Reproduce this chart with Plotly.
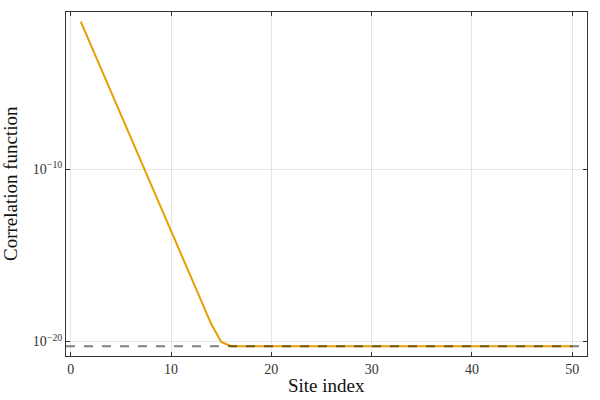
import plotly.graph_objects as go

# site indices and correlation values (log scale)
sites = list(range(1, 51))
correlation = [
    3.7e-2, 1.66e-3, 7.4e-5, 3.3e-6, 1.48e-7, 6.6e-9, 2.95e-10, 1.32e-11,
    6.0e-13, 2.7e-14, 1.2e-15, 5.4e-17, 2.4e-18, 1.07e-19, 9.5e-21,
    5.4e-21, 5.4e-21, 5.4e-21, 5.4e-21, 5.4e-21, 5.4e-21, 5.4e-21, 5.4e-21,
    5.4e-21, 5.4e-21, 5.4e-21, 5.4e-21, 5.4e-21, 5.4e-21, 5.4e-21, 5.4e-21,
    5.4e-21, 5.4e-21, 5.4e-21, 5.4e-21, 5.4e-21, 5.4e-21, 5.4e-21, 5.4e-21,
    5.4e-21, 5.4e-21, 5.4e-21, 5.4e-21, 5.4e-21, 5.4e-21, 5.4e-21, 5.4e-21,
    5.4e-21, 5.4e-21, 5.4e-21,
]
floor_level = 5.4e-21

x_ticks = [0, 10, 20, 30, 40, 50]
y_ticks = [1e-20, 1e-10]
y_ticktext = ["10<sup>\u221220</sup>", "10<sup>\u221210</sup>"]

font = "Liberation Serif"

fig = go.Figure()
fig.add_trace(go.Scatter(x=sites, y=correlation, mode="lines",
                         line=dict(color="#e69f00", width=2),
                         showlegend=False))
fig.add_trace(go.Scatter(x=[-0.47, 51.47], y=[floor_level, floor_level],
                         mode="lines",
                         line=dict(color="rgba(0,0,0,0.5)", width=2, dash="dash"),
                         showlegend=False))

axis_common = dict(showline=True, linecolor="#333333", linewidth=1,
                   mirror="allticks", ticks="inside", ticklen=4,
                   tickcolor="#333333", showgrid=True,
                   gridcolor="rgba(0,0,0,0.1)", gridwidth=0.5,
                   zeroline=False, automargin=False,
                   tickfont=dict(family=font, size=14, color="#333"))

fig.update_xaxes(range=[-0.47, 51.47], tickvals=x_ticks, **axis_common)
fig.update_yaxes(type="log", range=[-20.84, -0.87], tickvals=y_ticks,
                 ticktext=y_ticktext, **axis_common)

title_font = dict(family=font, size=19, color="#111")
fig.add_annotation(text="Site index", xref="paper", yref="paper",
                   x=0.5, y=0, yshift=-29, showarrow=False,
                   xanchor="center", yanchor="middle", font=title_font)
fig.add_annotation(text="Correlation function", xref="paper", yref="paper",
                   x=0, y=0.5, xshift=-56, showarrow=False, textangle=-90,
                   xanchor="center", yanchor="middle", font=title_font)

fig.update_layout(width=600, height=400, plot_bgcolor="white", paper_bgcolor="white",
                  margin=dict(l=66, r=13, t=12, b=44),
                  font=dict(family=font))

# drop the browser's default 8px body margin so the figure sits at the corner
fig.write_html("out.html", config={"displayModeBar": False},
               post_script="document.body.style.margin='0';")
